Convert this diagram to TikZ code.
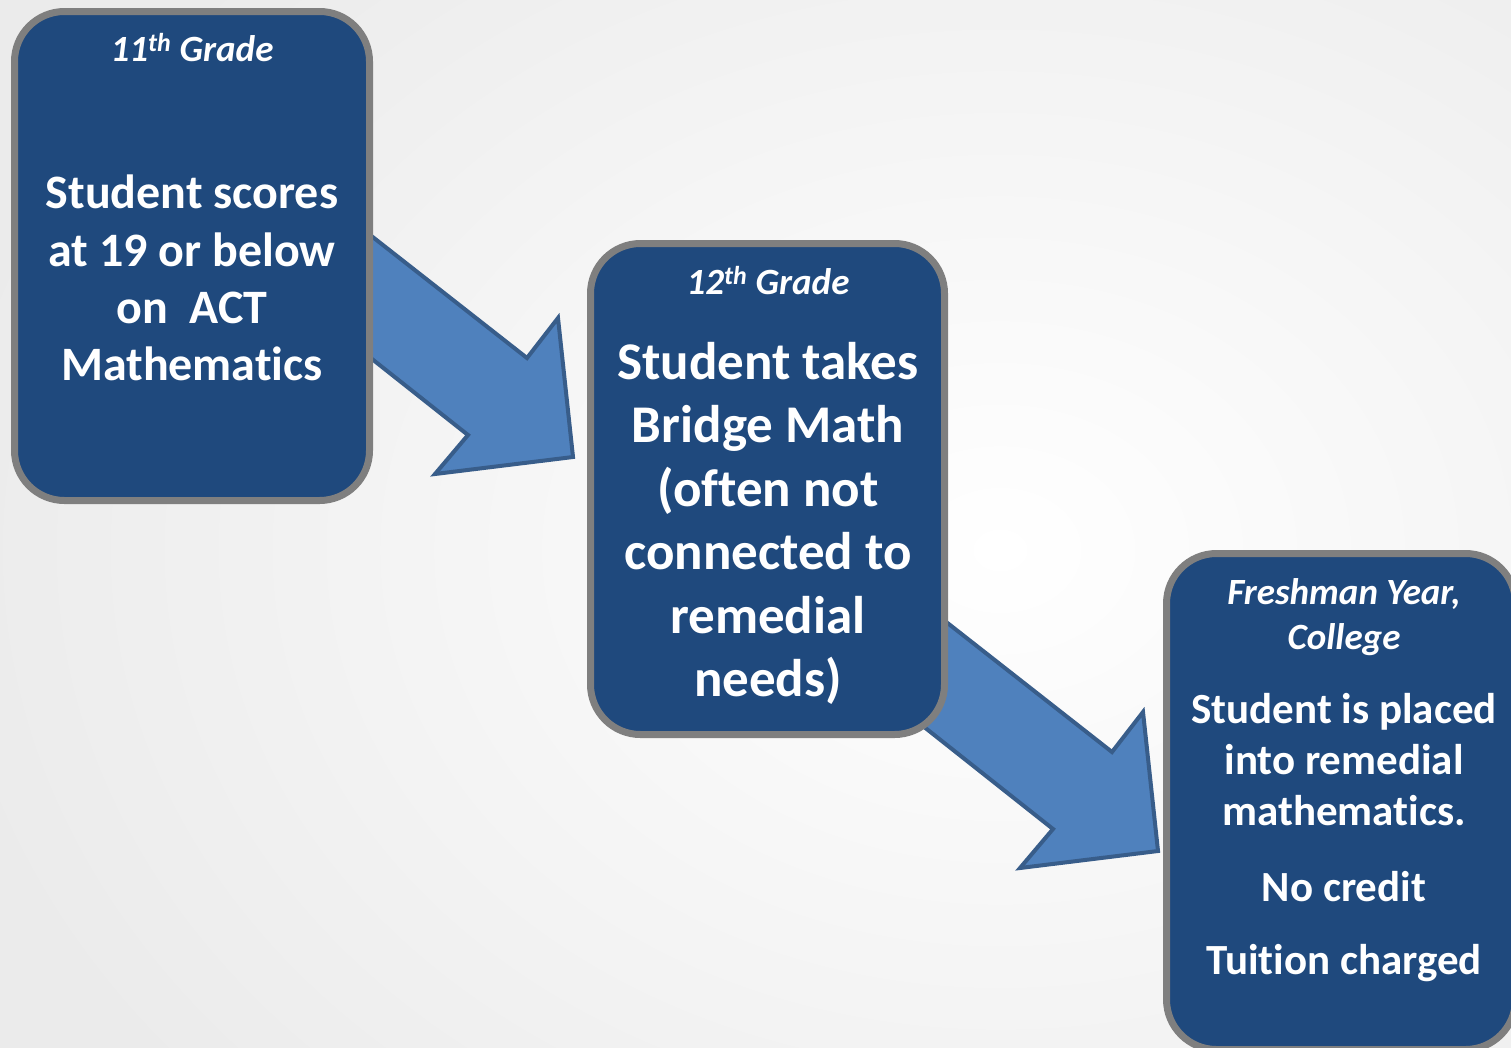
\documentclass[tikz,border=0pt]{standalone}
\usepackage{fontspec}
\setmainfont{Carlito}[Ligatures=NoCommon, RawFeature={-liga;-calt;-clig}]
\definecolor{boxblue}{HTML}{1F497D}
\definecolor{arrowfill}{HTML}{4F81BD}
\definecolor{arrowline}{HTML}{385D8A}
\definecolor{boxline}{HTML}{7F7F7F}
\begin{document}
\begin{tikzpicture}[x=1pt,y=-1pt,
  stagebox/.style={draw=boxline, line width=7pt, fill=boxblue, rounded corners=50pt, inner sep=0pt},
  head/.style={text=white, font=\fontsize{37}{45}\selectfont\bfseries\itshape, align=center, inner sep=0pt},
  body/.style 2 args={text=white, font=\fontsize{#1}{#2}\selectfont\bfseries, align=center, inner sep=0pt, anchor=north},
  blockarrow/.style={fill=arrowfill, draw=arrowline, line width=4pt, line join=miter},
  blockarr/.pic={\path[blockarrow] (-273,-277) -- (-46,-99) -- (-15,-139) -- (0,0) -- (-138,17) -- (-105,-22) -- (-273,-155) -- cycle;}
]
\useasboundingbox (0,0) rectangle (1511,1047);
\shade[inner color=white, outer color=black!8] (-100,-300) rectangle (2100,1400);
% block arrows (behind the boxes)
\pic at (573,457) {blockarr};
\pic at (1158,851) {blockarr};
% boxes
\node[stagebox, minimum width=355pt, minimum height=489pt] (g11) at (192,256) {};
\node[stagebox, minimum width=354pt, minimum height=491pt] (g12) at (767.5,489) {};
\node[stagebox, minimum width=349pt, minimum height=496pt] (fresh) at (1341,801.5) {};
% texts
\node[head, anchor=base] (h11) at (192,61) {11\textsuperscript{th} Grade};
\node[body={48}{57.3}] (t11) at (192,175) {Student scores\\at 19 or below\\on\ \ ACT\\Mathematics};
\node[head, anchor=base] (h12) at (768,294) {12\textsuperscript{th} Grade};
\node[body={53}{63.4}] (t12) at (768,342) {Student takes\\Bridge Math\\(often not\\connected to\\remedial\\needs)};
\node[head, anchor=north] (hf) at (1344,578) {Freshman Year,\\College};
\node[body={43}{51}] (tf) at (1344,693) {Student is placed\\into remedial\\mathematics.\\[25pt]No credit\\[22pt]Tuition charged};
\end{tikzpicture}
\end{document}
